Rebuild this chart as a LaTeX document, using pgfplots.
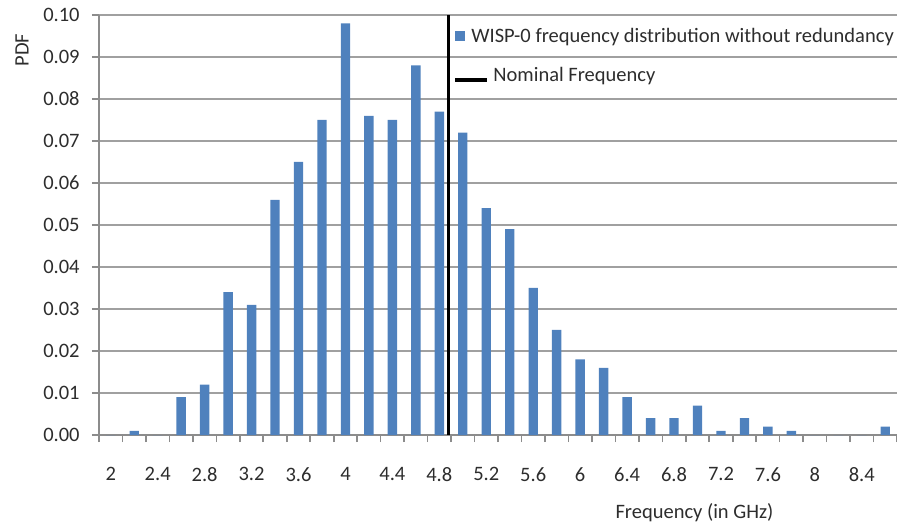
\documentclass[border=0pt]{standalone}
\usepackage{pgfplots}
\usepackage{pgfplotstable}
\pgfplotsset{compat=1.18}
\usepackage{fontspec}
\setmainfont{Carlito}

\definecolor{barblue}{RGB}{79,129,189}
\definecolor{gridgray}{RGB}{160,160,160}
\definecolor{axisgray}{RGB}{140,140,140}
\definecolor{textgray}{RGB}{45,45,45}

% Frequency bins (GHz) and the measured PDF of each bin
\pgfplotstableread{
idx freq pdf
0  2.0 0.000
1  2.2 0.001
2  2.4 0.000
3  2.6 0.009
4  2.8 0.012
5  3.0 0.034
6  3.2 0.031
7  3.4 0.056
8  3.6 0.065
9  3.8 0.075
10 4.0 0.098
11 4.2 0.076
12 4.4 0.075
13 4.6 0.088
14 4.8 0.077
15 5.0 0.072
16 5.2 0.054
17 5.4 0.049
18 5.6 0.035
19 5.8 0.025
20 6.0 0.018
21 6.2 0.016
22 6.4 0.009
23 6.6 0.004
24 6.8 0.004
25 7.0 0.007
26 7.2 0.001
27 7.4 0.004
28 7.6 0.002
29 7.8 0.001
30 8.0 0.000
31 8.2 0.000
32 8.4 0.000
33 8.6 0.002
}\pdftable

\begin{document}
\begin{tikzpicture}
\begin{axis}[
  scale only axis,
  width=399pt, height=210pt,
  at={(0,0)}, anchor=south west,
  font=\fontsize{10.25pt}{12.3pt}\selectfont,
  every tick label/.append style={text=textgray},
  /pgf/number format/assume math mode=true,
  xmin=-0.5, xmax=33.5,
  ymin=0, ymax=0.1,
  axis x line*=bottom, axis y line*=left,
  axis line style={-, draw=axisgray, line width=0.8pt},
  xtick={0,2,...,32},
  xticklabels={2,2.4,2.8,3.2,3.6,4,4.4,4.8,5.2,5.6,6,6.4,6.8,7.2,7.6,8,8.4},
  minor xtick={-0.5,0.5,...,33.5},
  major x tick style={draw=none},
  minor x tick style={draw=axisgray, line width=0.8pt},
  ytick={0,0.01,0.02,0.03,0.04,0.05,0.06,0.07,0.08,0.09,0.1},
  y tick style={draw=axisgray, line width=0.8pt},
  tick align=outside,
  major tick length=3.5pt, minor tick length=3.5pt,
  ymajorgrids,
  grid style={draw=gridgray, line width=0.9pt},
  y tick label style={/pgf/number format/fixed, /pgf/number format/fixed zerofill,
    /pgf/number format/precision=2, anchor=east, inner sep=0pt, xshift=-6pt},
  x tick label style={anchor=north, inner sep=0pt, yshift=-12.5pt},
  xlabel={Frequency (in GHz)},
  ylabel={PDF},
  every axis x label/.style={at={(rel axis cs:0.7462,0)}, yshift=-39pt, anchor=center, text=textgray},
  every axis y label/.style={at={(rel axis cs:-0.0965,0.9167)}, rotate=90, anchor=center, text=textgray},
  legend style={at={(rel axis cs:0.4436,0.970)}, anchor=north west, draw=none, fill=none,
    inner sep=0pt, row sep=10.8pt, column sep=2pt,
    nodes={inner sep=0pt, text=textgray, anchor=base west}},
  legend cell align=left,
]
\addplot[ybar, bar width=0.4, fill=barblue, draw=none,
  legend image code/.code={\fill[barblue] (0pt,0.8pt) rectangle (5pt,5.8pt);}]
  table[x=idx, y=pdf] {\pdftable};
\addlegendentry{\hspace*{-11pt}WISP-0 frequency distribution without redundancy}
% nominal operating frequency, about 4.88 GHz, between the 4.8 and 5.0 bins
\addplot[black, line width=1.5pt,
  legend image code/.code={\draw[black, line width=2pt] (0pt,0.6pt) -- (16pt,0.6pt);}]
  coordinates {(14.38,0) (14.38,0.1)};
\addlegendentry{Nominal Frequency}
\end{axis}
\pgfresetboundingbox
\path[use as bounding box] (-49.5pt,-47pt) rectangle (399pt,217.5pt);
\end{tikzpicture}
\end{document}
